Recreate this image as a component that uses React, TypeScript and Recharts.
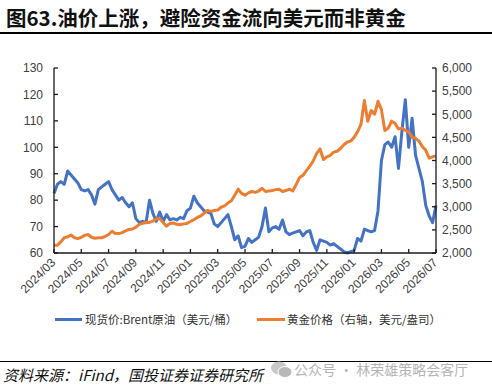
import React from "react";
import { LineChart, Line, XAxis, YAxis } from "recharts";

// month labels on the x axis (every second one is shown)
const months = [
  "2024/03", "2024/04", "2024/05", "2024/06", "2024/07", "2024/08", "2024/09", "2024/10",
  "2024/11", "2024/12", "2025/01", "2025/02", "2025/03", "2025/04", "2025/05", "2025/06",
  "2025/07", "2025/08", "2025/09", "2025/10", "2025/11", "2025/12", "2026/01", "2026/02",
  "2026/03", "2026/04", "2026/05", "2026/06", "2026/07",
];

// roughly weekly points, 4 per month, last one on 2026/07
const weeks: string[] = [];
months.forEach((m, i) => {
  const n = i === months.length - 1 ? 1 : 4;
  for (let w = 1; w <= n; w++) weeks.push(`${m}-${w}`);
});

// 现货价:Brent原油（美元/桶）
const brentOil = [
  82.5, 86, 87, 86, 91, 89.5, 88, 86.5,
  84, 83.5, 84, 82, 78.5, 84, 85, 86,
  87, 84, 82, 80, 81, 79, 77.5, 79,
  73, 71.5, 72, 71.5, 80, 75, 72, 75.5,
  72, 74.5, 72.5, 73, 72.5, 73.5, 73, 76,
  77, 81.5, 79, 77.5, 76, 75.5, 75, 71,
  70, 71.5, 73, 74.5, 70, 65, 66.5, 62,
  62.5, 65.5, 64, 65, 66, 70, 77, 68,
  69.5, 70, 69, 72.5, 68, 67, 67.5, 68,
  68.5, 66.5, 68, 68.5, 64, 61, 65, 64.5,
  64, 63, 63.5, 62.5, 61.5, 60.5, 60, 60.5,
  61, 65.5, 64.5, 69, 68.5, 68, 68.5, 76,
  95, 101, 102, 100, 104, 92, 106, 118,
  100, 111, 97, 92, 87, 78, 74, 71.5,
  78,
];

// 黄金价格（右轴，美元/盎司）
const goldPrice = [
  2165, 2170, 2240, 2330, 2350, 2390, 2330, 2310,
  2340, 2380, 2400, 2340, 2320, 2330, 2330, 2360,
  2400, 2470, 2420, 2420, 2440, 2480, 2510, 2520,
  2560, 2620, 2640, 2660, 2660, 2690, 2740, 2740,
  2660, 2580, 2640, 2650, 2620, 2610, 2630, 2640,
  2680, 2720, 2770, 2800, 2860, 2920, 2900, 2920,
  2930, 2990, 3020, 3080, 3130, 3250, 3380, 3290,
  3250, 3300, 3330, 3310, 3340, 3400, 3330, 3340,
  3350, 3370, 3380, 3330, 3350, 3380, 3340, 3480,
  3630, 3680, 3780, 3880, 3990, 4150, 4250, 4020,
  4080, 4110, 4180, 4200, 4260, 4340, 4400, 4420,
  4500, 4620, 4780, 5300, 4850, 5080, 5000, 5280,
  5100, 4650, 4700, 4850, 4800, 4680, 4700, 4650,
  4620, 4500, 4480, 4420, 4300, 4220, 4050, 4080,
  4100,
];

const leftTicks = [60, 70, 80, 90, 100, 110, 120, 130];
const rightTicks = [2000, 2500, 3000, 3500, 4000, 4500, 5000, 5500, 6000];

const data = weeks.map((w, i) => ({ date: w, oil: brentOil[i], gold: goldPrice[i] }));

const BLUE = "#4472C4";
const ORANGE = "#ED7D31";
const AXIS = "#1a1a1a";
const LABEL = "#404040";
const FONT = "'Liberation Sans', Arial, sans-serif";
const CJK = "'Noto Sans CJK SC', sans-serif";

function MonthTick({ x, y, payload }: any) {
  return (
    <text
      x={x}
      y={y}
      transform={`rotate(-45 ${x} ${y})`}
      textAnchor="end"
      dominantBaseline="middle"
      fontSize={12}
      fontFamily={FONT}
      fill={LABEL}
    >
      {String(payload.value).slice(0, 7)}
    </text>
  );
}

export default function App() {
  return (
    <div style={{ position: "absolute", left: 0, top: 0, width: 492, height: 387, background: "#fff", overflow: "hidden" }}>
      <div style={{ position: "absolute", left: 6, top: 2, fontFamily: CJK, fontWeight: 700, fontSize: 20.5, color: "#111", whiteSpace: "nowrap" }}>
        图63.油价上涨，避险资金流向美元而非黄金
      </div>
      <div style={{ position: "absolute", left: 0, top: 32, width: 492, height: 1.5, background: "#000" }} />

      <div style={{ position: "absolute", left: 0, top: 0 }}>
        <LineChart width={492} height={300} data={data} margin={{ top: 68, right: 11, bottom: 7, left: 14 }}>
          <XAxis
            dataKey="date"
            interval={7}
            height={40}
            stroke={AXIS}
            strokeWidth={1.3}
            tickSize={-4}
            tickMargin={12}
            tick={<MonthTick />}
          />
          <YAxis
            yAxisId="left"
            domain={[60, 130]}
            ticks={leftTicks}
            width={40}
            stroke={AXIS}
            strokeWidth={1.3}
            tickSize={-4}
            tickMargin={15}
            tick={{ fontSize: 12, fill: LABEL, fontFamily: FONT }}
          />
          <YAxis
            yAxisId="right"
            orientation="right"
            domain={[2000, 6000]}
            ticks={rightTicks}
            width={45}
            stroke={AXIS}
            strokeWidth={1.3}
            tickSize={-4}
            tickMargin={10}
            tickFormatter={(v) => v.toLocaleString("en-US")}
            tick={{ fontSize: 12, fill: LABEL, fontFamily: FONT, textAnchor: "start" }}
          />
          <Line yAxisId="left" type="linear" dataKey="oil" stroke={BLUE} strokeWidth={3} dot={false} strokeLinejoin="round" isAnimationActive={false} />
          <Line yAxisId="right" type="linear" dataKey="gold" stroke={ORANGE} strokeWidth={3} dot={false} strokeLinejoin="round" isAnimationActive={false} />
        </LineChart>
      </div>

      {/* legend */}
      <div style={{ position: "absolute", left: 55, top: 311, display: "flex", alignItems: "center", fontFamily: CJK, fontSize: 11.5, color: "#333", whiteSpace: "nowrap" }}>
        <span style={{ width: 27, height: 3, background: BLUE, marginRight: 3 }} />
        <span>现货价:Brent原油（美元/桶）</span>
      </div>
      <div style={{ position: "absolute", left: 257, top: 311, display: "flex", alignItems: "center", fontFamily: CJK, fontSize: 11.5, color: "#333", whiteSpace: "nowrap" }}>
        <span style={{ width: 28, height: 3, background: ORANGE, marginRight: 2 }} />
        <span>黄金价格（右轴，美元/盎司）</span>
      </div>

      <div style={{ position: "absolute", left: 0, top: 361, width: 492, height: 1, background: "#000" }} />
      <div style={{ position: "absolute", left: 3, top: 364, fontFamily: CJK, fontStyle: "italic", fontSize: 15, color: "#111", whiteSpace: "nowrap" }}>
        资料来源：iFind，国投证券证券研究所
      </div>
      <svg style={{ position: "absolute", left: 270, top: 360 }} width={24} height={20}>
        <ellipse cx={9} cy={8} rx={8} ry={6.5} fill="#c8c8c8" />
        <ellipse cx={15} cy={12} rx={7} ry={5.5} fill="#b8b8b8" stroke="#fff" strokeWidth={1} />
      </svg>
      <div style={{ position: "absolute", left: 294, top: 359, fontFamily: CJK, fontSize: 14, color: "#b5b5b5", whiteSpace: "nowrap" }}>
        公众号 · 林荣雄策略会客厅
      </div>
    </div>
  );
}
